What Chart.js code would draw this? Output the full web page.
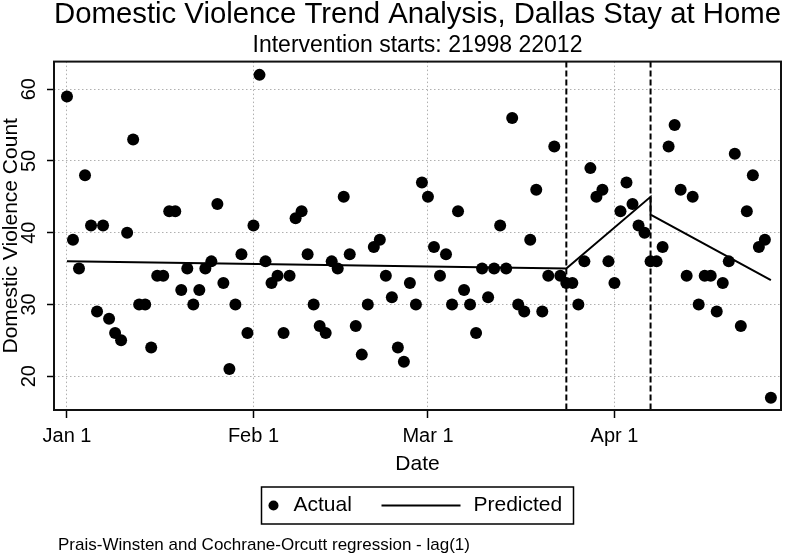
<!DOCTYPE html>
<html>
<head>
<meta charset="utf-8">
<script src="https://cdn.jsdelivr.net/npm/chart.js@4.4.1/dist/chart.umd.min.js"></script>
<style>
html,body{margin:0;padding:0;background:#fff;}
#wrap{width:787px;height:555px;}
canvas{display:block;}
</style>
</head>
<body>
<div id="wrap"><canvas id="c" width="787" height="555"></canvas></div>
<script>
// ---- data (day index 0 = Jan 1, 2020) ----
const actualCounts = [
  59,39,35,48,41,29,41,28,26,25,
  40,53,30,30,24,34,34,43,43,32,
  35,30,32,35,36,44,33,21,30,37,
  26,41,62,36,33,34,26,34,42,43,
  37,30,27,26,36,35,45,37,27,23,
  30,38,39,34,31,24,22,33,30,47,
  45,38,34,37,30,43,32,30,26,35,
  31,35,41,35,56,30,29,39,46,29,
  34,52,34,33,33,30,36,49,45,46,
  36,33,43,47,44,41,40,36,36,38,
  52,55,46,34,45,30,34,34,29,33,
  36,51,27,43,48,38,39,17
];
const predictedDays   = [0, 83, 97, 97, 117];
const predictedValues = [36.0, 35.0, 45.0, 42.5, 33.4];
const interventionDays = [83, 97];
const xTickDays   = [0, 31, 60, 91];
const xTickLabels = ['Jan 1', 'Feb 1', 'Mar 1', 'Apr 1'];
const yTickValues = [20, 30, 40, 50, 60];
const xRange = [-2.155, 118.68];
const yRange = [15.28, 63.85];
const titleText = 'Domestic Violence Trend Analysis, Dallas Stay at Home';
const subtitleText = 'Intervention starts: 21998 22012';
const noteText = 'Prais-Winsten and Cochrane-Orcutt regression - lag(1)';

const FONT = "'Liberation Sans', Arial, Helvetica, sans-serif";
Chart.defaults.font.family = FONT;
Chart.defaults.color = '#000';

const decorPlugin = {
  id: 'decor',
  beforeDatasetsDraw(chart) {
    const {ctx, chartArea: a, scales: {x}} = chart;
    ctx.save();
    ctx.strokeStyle = '#000';
    ctx.lineWidth = 2;
    ctx.setLineDash([6, 3]);
    interventionDays.forEach(d => {
      const px = x.getPixelForValue(d);
      ctx.beginPath();
      ctx.moveTo(px, a.top);
      ctx.lineTo(px, a.bottom);
      ctx.stroke();
    });
    ctx.restore();
  },
  afterDatasetsDraw(chart) {
    const {ctx, chartArea: a} = chart;
    ctx.save();
    ctx.strokeStyle = '#111';
    ctx.lineWidth = 2;
    ctx.strokeRect(a.left, a.top, a.right - a.left, a.bottom - a.top);
    ctx.restore();
  },
  afterDraw(chart) {
    const {ctx, chartArea: a} = chart;
    const ds = chart.data.datasets;
    ctx.save();
    // legend box
    const bw = 312, bh = 37;
    const cx = (a.left + a.right) / 2;
    const bx = cx - bw / 2, by = chart.height - 68;
    ctx.strokeStyle = '#000';
    ctx.lineWidth = 1.5;
    ctx.strokeRect(bx, by, bw, bh);
    const my = by + bh / 2;
    ctx.fillStyle = '#000';
    ctx.beginPath();
    ctx.arc(bx + 12, my, 5, 0, Math.PI * 2);
    ctx.fill();
    ctx.font = '21px ' + FONT;
    ctx.textAlign = 'left';
    ctx.textBaseline = 'middle';
    ctx.fillText(ds[0].label, bx + 32, my);
    ctx.lineWidth = 2;
    ctx.beginPath();
    ctx.moveTo(bx + 120, my);
    ctx.lineTo(bx + 199, my);
    ctx.stroke();
    ctx.fillText(ds[1].label, bx + 212, my);
    // note
    ctx.font = '17px ' + FONT;
    ctx.fillText(noteText, 58, chart.height - 9.5);
    ctx.restore();
  }
};

new Chart(document.getElementById('c'), {
  type: 'scatter',
  data: {
    datasets: [
      {
        label: 'Actual',
        data: actualCounts.map((v, i) => ({x: i, y: v})),
        pointRadius: 6,
        pointHoverRadius: 6,
        pointBackgroundColor: '#000',
        pointBorderColor: '#000',
        pointBorderWidth: 0,
        order: 2
      },
      {
        label: 'Predicted',
        type: 'line',
        data: predictedDays.map((d, i) => ({x: d, y: predictedValues[i]})),
        borderColor: '#000',
        borderWidth: 2,
        pointRadius: 0,
        fill: false,
        tension: 0,
        order: 1
      }
    ]
  },
  options: {
    responsive: false,
    animation: false,
    devicePixelRatio: 1,
    events: [],
    layout: {padding: {left: 0, right: 4, top: 0, bottom: 80}},
    plugins: {
      legend: {display: false},
      tooltip: {enabled: false},
      title: {
        display: true, text: titleText, fullSize: false, color: '#000',
        font: {size: 29.6, weight: 'normal', lineHeight: 1},
        padding: {top: 0, bottom: 5}
      },
      subtitle: {
        display: true, text: subtitleText, fullSize: false, color: '#000',
        font: {size: 23, weight: 'normal', lineHeight: 1},
        padding: {top: 0, bottom: 4}
      }
    },
    scales: {
      x: {
        type: 'linear',
        min: xRange[0], max: xRange[1],
        afterBuildTicks: s => { s.ticks = xTickDays.map(v => ({value: v})); },
        ticks: {
          callback: (v, i) => xTickLabels[i],
          font: {size: 20, lineHeight: 1},
          padding: 8, maxRotation: 0, minRotation: 0, autoSkip: false, color: '#000'
        },
        grid: {color: '#b0b0b0', lineWidth: 1, tickColor: '#000', tickLength: 8, tickWidth: 1.5},
        border: {display: false, dash: [1.5, 2.5]},
        title: {display: true, text: 'Date', color: '#000', font: {size: 21, lineHeight: 1}, padding: {top: 0, bottom: 0}}
      },
      y: {
        type: 'linear',
        min: yRange[0], max: yRange[1],
        afterBuildTicks: s => { s.ticks = yTickValues.map(v => ({value: v})); },
        afterFit: s => { s.width = 54; },
        ticks: {
          callback: v => String(v),
          font: {size: 20, lineHeight: 1},
          padding: 6, minRotation: 90, maxRotation: 90, crossAlign: 'center', color: '#000'
        },
        grid: {color: '#b0b0b0', lineWidth: 1, tickColor: '#000', tickLength: 7, tickWidth: 1.5},
        border: {display: false, dash: [1.5, 2.5]},
        title: {display: true, text: 'Domestic Violence Count', color: '#000', font: {size: 21, lineHeight: 1}, padding: {top: 1, bottom: 0}}
      }
    }
  },
  plugins: [decorPlugin]
});
</script>
</body>
</html>
